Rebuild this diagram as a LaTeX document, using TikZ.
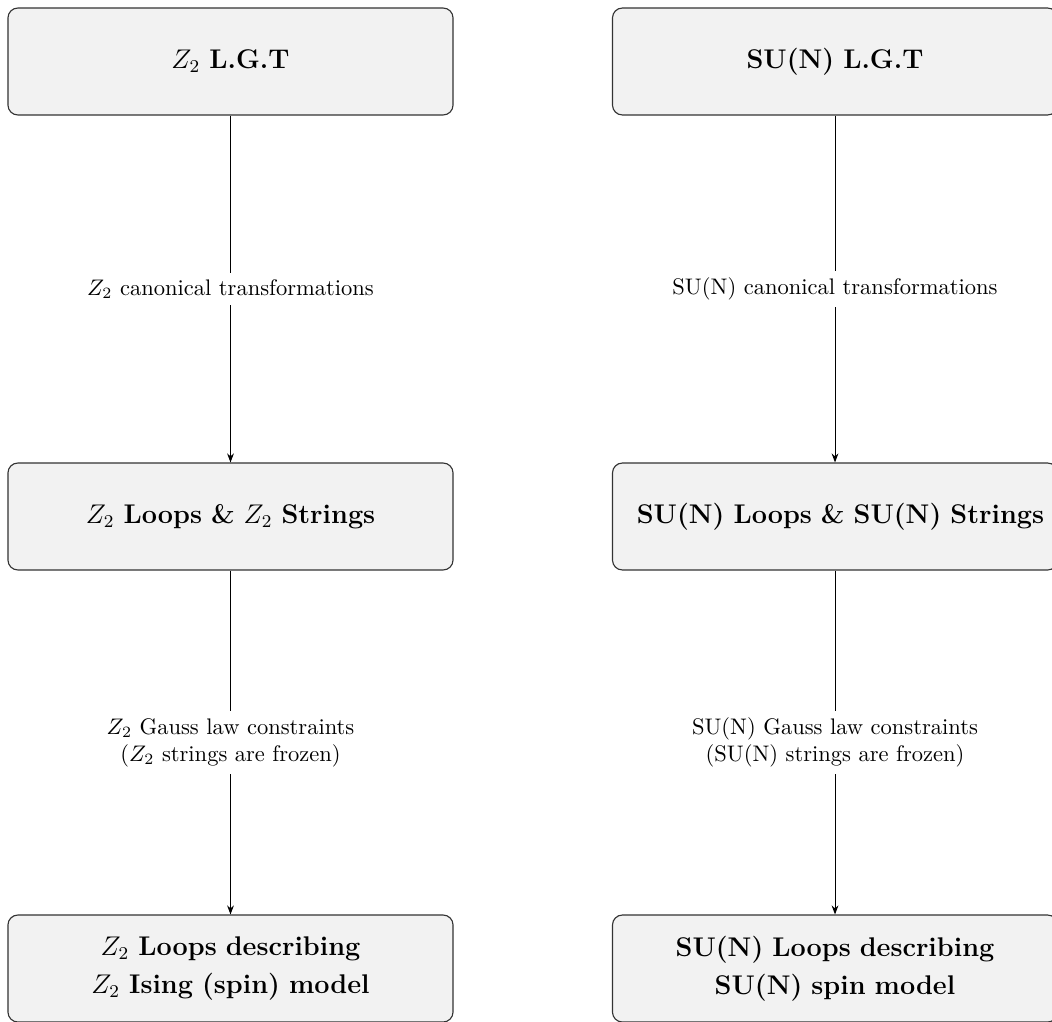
\documentclass[tikz,border=0pt]{standalone}
\usetikzlibrary{arrows.meta}
\definecolor{boxfill}{HTML}{F2F2F2}
\definecolor{boxline}{HTML}{333333}
\begin{document}
\begin{tikzpicture}[x=0.444pt,y=-0.444pt,
  stagebox/.style={draw=boxline, line width=0.5pt, fill=boxfill, rounded corners=4.4pt,
    minimum width=197.6pt, minimum height=47.5pt, text width=176pt, inner xsep=10.8pt,
    align=center, font=\large\bfseries},
  flow/.style={-{Stealth[length=4pt,width=3pt]}, line width=0.45pt},
  steplabel/.style={fill=white, align=center, font=\normalsize, inner sep=3pt}
]
\useasboundingbox (0,0) rectangle (1052,1021);

% Z2 column
\node[stagebox] (zlgt)  at (230.5,61.5)  {$Z_2$ L.G.T};
\node[stagebox] (zloop) at (230.5,516.5) {$Z_2$ Loops \& $Z_2$ Strings};
\node[stagebox] (zspin) at (230.5,968.5) {$Z_2$ Loops describing\\[3pt] $Z_2$ Ising (spin) model};

% SU(N) column
\node[stagebox] (slgt)  at (835,61.5)  {SU(N) L.G.T};
\node[stagebox] (sloop) at (835,516.5) {\mbox{SU(N) Loops \& SU(N) Strings}};
\node[stagebox] (sspin) at (835,968.5) {SU(N) Loops describing\\[3pt] SU(N) spin model};

% transitions
\draw[flow] (zlgt) -- node[steplabel] {$Z_2$ canonical transformations} (zloop);
\draw[flow] (zloop) -- node[steplabel] {$Z_2$ Gauss law constraints\\($Z_2$ strings are frozen)} (zspin);
\draw[flow] (slgt) -- node[steplabel] {SU(N) canonical transformations} (sloop);
\draw[flow] (sloop) -- node[steplabel] {SU(N) Gauss law constraints\\(SU(N) strings are frozen)} (sspin);
\end{tikzpicture}
\end{document}
